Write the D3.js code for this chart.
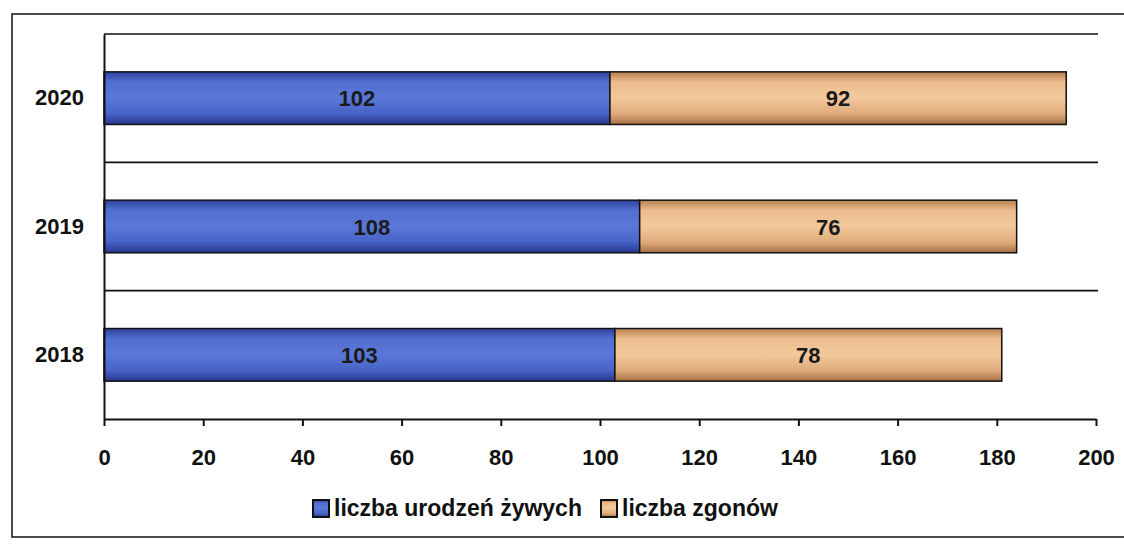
<!DOCTYPE html>
<html><head><meta charset="utf-8">
<script src="https://cdn.jsdelivr.net/npm/d3@7"></script>
<style>body{margin:0;background:#fff}svg{display:block;font-family:"Liberation Sans",Arial,sans-serif}</style>
</head><body>
<svg id="c" width="1124" height="546"></svg>
<script>
const categories = ["2020", "2019", "2018"];
const births = [102, 108, 103];
const deaths = [92, 76, 78];
const seriesNames = ["liczba urodzeń żywych", "liczba zgonów"];
const xTicks = [0, 20, 40, 60, 80, 100, 120, 140, 160, 180, 200];

const svg = d3.select("#c");
const defs = svg.append("defs");
function grad(id, stops) {
  const g = defs.append("linearGradient").attr("id", id).attr("x1", 0).attr("y1", 0).attr("x2", 0).attr("y2", 1);
  stops.forEach(s => g.append("stop").attr("offset", s[0]).attr("stop-color", s[1]));
}
grad("gBlue", [[0, "#2f42a0"], [0.2, "#5370d0"], [0.5, "#5b78d8"], [0.8, "#4762c6"], [1, "#27368e"]]);
grad("gOrange", [[0, "#b98150"], [0.2, "#ecbd8e"], [0.5, "#f2c89c"], [0.8, "#dfaa7a"], [1, "#a87044"]]);

// outer frame
svg.append("rect").attr("x", 12).attr("y", 14).attr("width", 1130).attr("height", 523)
  .attr("fill", "none").attr("stroke", "#111").attr("stroke-width", 1.5);

const x = d3.scaleLinear().domain([0, 200]).range([104, 1096]);
const y = d3.scaleBand().domain(categories).range([34, 419]).padding(0);
const barH = y.bandwidth() * 0.41;
const off = (y.bandwidth() - barH) / 2;

// horizontal lines (top border + category separators)
const g = svg.append("g");
categories.forEach(c => {
  g.append("line").attr("x1", x(0)).attr("x2", 1098).attr("y1", y(c)).attr("y2", y(c))
    .attr("stroke", "#111").attr("stroke-width", 1.6);
});

// bars
const data = categories.map((c, i) => ({c, b: births[i], d: deaths[i]}));
data.forEach(d => {
  const yy = y(d.c) + off;
  g.append("rect").attr("x", x(0)).attr("y", yy).attr("width", x(d.b) - x(0)).attr("height", barH)
    .attr("fill", "url(#gBlue)").attr("stroke", "#111").attr("stroke-width", 1.5);
  g.append("rect").attr("x", x(d.b)).attr("y", yy).attr("width", x(d.b + d.d) - x(d.b)).attr("height", barH)
    .attr("fill", "url(#gOrange)").attr("stroke", "#111").attr("stroke-width", 1.5);
  g.append("text").attr("x", (x(0) + x(d.b)) / 2).attr("y", yy + barH / 2 + 8)
    .attr("text-anchor", "middle").attr("font-size", 22).attr("font-weight", "bold").attr("fill", "#1a1a1a").text(d.b);
  g.append("text").attr("x", (x(d.b) + x(d.b + d.d)) / 2).attr("y", yy + barH / 2 + 8)
    .attr("text-anchor", "middle").attr("font-size", 22).attr("font-weight", "bold").attr("fill", "#1a1a1a").text(d.d);
});

// x axis
const xAxis = d3.axisBottom(x).tickValues(xTicks).tickSize(7).tickPadding(23).tickSizeOuter(0);
const ax = svg.append("g").attr("transform", `translate(0,${y.range()[1]})`).call(xAxis);
ax.select(".domain").attr("stroke", "#111").attr("stroke-width", 2);
ax.selectAll(".tick line").attr("stroke", "#111").attr("stroke-width", 2);
ax.selectAll(".tick text").attr("font-size", 22).attr("font-weight", "bold").attr("fill", "#111")
  .attr("font-family", "Liberation Sans, Arial, sans-serif");

// y axis
const yAxis = d3.axisLeft(y).tickSize(0).tickPadding(20);
const ay = svg.append("g").attr("transform", `translate(${x(0)},0)`).call(yAxis);
ay.select(".domain").attr("stroke", "#111").attr("stroke-width", 2);
ay.selectAll(".tick text").attr("font-size", 22).attr("font-weight", "bold").attr("fill", "#111")
  .attr("font-family", "Liberation Sans, Arial, sans-serif");

// legend
const leg = svg.append("g");
const legItems = [
  {name: seriesNames[0], fill: "url(#gBlue)", x: 313},
  {name: seriesNames[1], fill: "url(#gOrange)", x: 601}
];
legItems.forEach(it => {
  leg.append("rect").attr("x", it.x).attr("y", 500).attr("width", 16).attr("height", 17)
    .attr("fill", it.fill).attr("stroke", "#111").attr("stroke-width", 2);
  leg.append("text").attr("x", it.x + 21).attr("y", 516).attr("font-size", 23).attr("font-weight", "bold")
    .attr("fill", "#111").text(it.name);
});
</script>
</body></html>
